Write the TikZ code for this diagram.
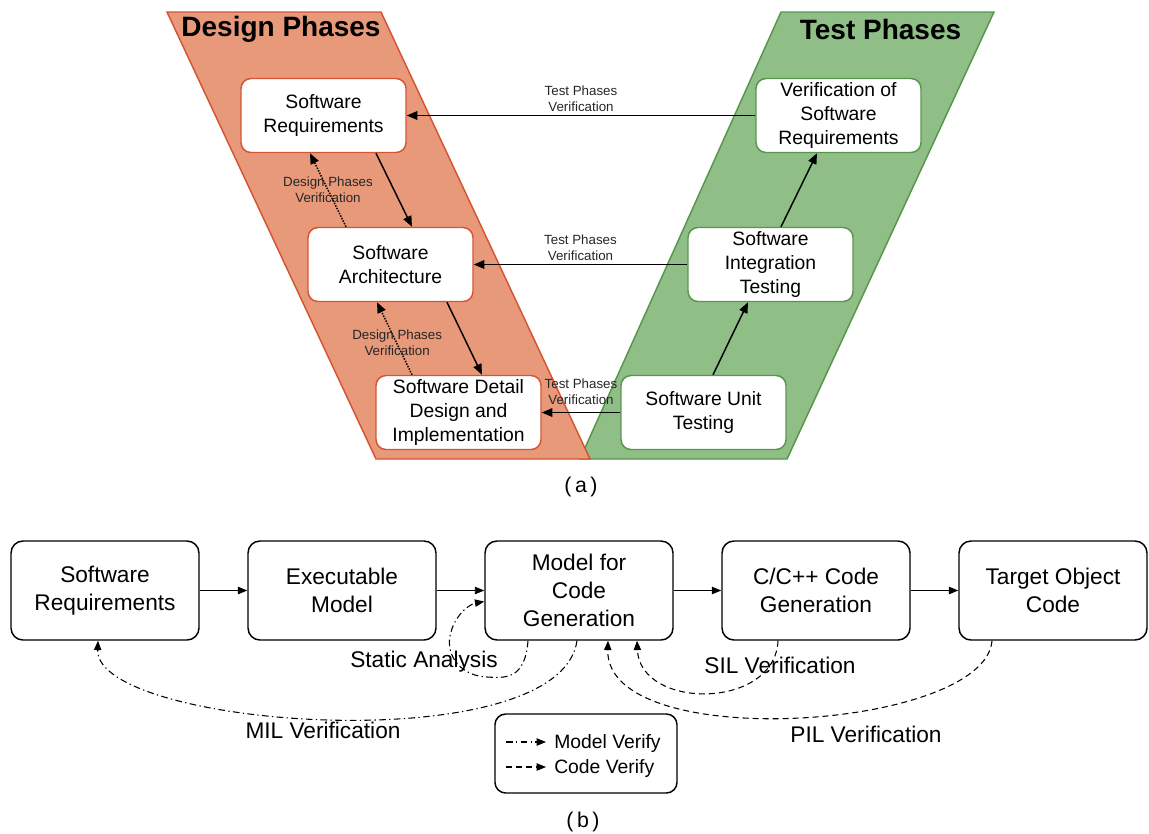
\documentclass[tikz,border=0pt]{standalone}
\usepackage{fontspec}
\setmainfont{Liberation Sans}
\usetikzlibrary{arrows.meta, calc}

\definecolor{designfill}{RGB}{232,153,122}
\definecolor{designline}{RGB}{212,84,52}
\definecolor{testfill}{RGB}{143,190,135}
\definecolor{testline}{RGB}{88,150,78}

\begin{document}
\begin{tikzpicture}[x=0.75pt, y=-0.75pt,
        every node/.style={inner sep=0pt, align=center},
        phasebox/.style={rectangle, rounded corners=7.5pt, fill=white, line width=1.1pt,
            minimum width=123.75pt, minimum height=55.5pt, font=\fontsize{14.5}{18}\selectfont},
        designbox/.style={phasebox, draw=designline},
        testbox/.style={phasebox, draw=testline},
        flowbox/.style={rectangle, rounded corners=9pt, draw, fill=white, line width=1.1pt,
            minimum width=141pt, minimum height=74.25pt, font=\fontsize{17}{21}\selectfont},
        smalllbl/.style={font=\fontsize{10}{12}\selectfont, text=black!85},
        biglbl/.style={font=\fontsize{17}{21}\selectfont, anchor=base},
        legtxt/.style={font=\fontsize{14.5}{18}\selectfont, anchor=west},
        solidarr/.style={line width=1.1pt, -{Triangle[length=8pt,width=6.5pt]}},
        dotarr/.style={line width=1.1pt, densely dotted, -{Triangle[length=8pt,width=6.5pt]}},
        flowarr/.style={line width=1pt, -{Triangle[length=7pt,width=5.5pt]}},
        mvarr/.style={line width=0.8pt, dash pattern=on 5pt off 2.5pt on 1pt off 2.5pt,
            -{Triangle[length=7pt,width=5.5pt]}},
        cvarr/.style={line width=0.8pt, dash pattern=on 4.5pt off 3pt,
            -{Triangle[length=7pt,width=5.5pt]}},
        node distance=177.75pt]
    \useasboundingbox (0,0) rectangle (1149,833);

    % (a) V model
    \draw[fill=testfill, draw=testline, line width=1.1pt]
        (781,12) -- (994,12) -- (787,459) -- (580,459) -- cycle;
    \draw[fill=designfill, draw=designline, line width=1.1pt]
        (167,12) -- (381,12) -- (590,459) -- (376,459) -- cycle;

    \node[font=\fontsize{21}{25}\selectfont\bfseries] (dtitle) at (281,29) {Design Phases};
    \node[font=\fontsize{21}{25}\selectfont\bfseries] (ttitle) at (880.5,29) {Test Phases};

    \node[designbox] (swreq) at (323.5,115.5) {Software\\Requirements};
    \node[designbox] (swarch) at (390.5,264.5) {Software\\Architecture};
    \node[designbox] (swdet) at (458.5,412.5) {Software Detail\\Design and\\Implementation};
    \node[testbox] (verreq) at (838.5,115.5) {Verification of\\Software\\Requirements};
    \node[testbox] (inttest) at (770.5,264.5) {Software\\Integration\\Testing};
    \node[testbox] (unittest) at (703.5,412.5) {Software Unit\\Testing};

    \draw[solidarr] ($(swreq.south)+(52.5,0)$) -- ($(swarch.north)+(21.5,0)$);
    \draw[solidarr] ($(swarch.south)+(56.5,0)$) -- ($(swdet.north)+(23.5,0)$);
    \draw[dotarr] ($(swarch.north)+(-44.5,0)$) -- ($(swreq.south)+(-13.5,0)$)
        node[midway, smalllbl] (dpv1) {Design Phases\\Verification};
    \draw[dotarr] ($(swdet.north)+(-46.5,0)$) -- ($(swarch.south)+(-13.5,0)$)
        node[midway, smalllbl, xshift=2pt, yshift=-3pt] (dpv2) {Design Phases\\Verification};

    \draw[solidarr] ($(unittest.north)+(9.5,0)$) -- ($(inttest.south)+(-22.5,0)$);
    \draw[solidarr] ($(inttest.north)+(10.5,0)$) -- ($(verreq.south)+(-21.5,0)$);

    \draw[solidarr] (verreq) -- (swreq)
        node[midway, above=2.5pt, smalllbl] (tpv1) {Test Phases\\Verification};
    \draw[solidarr] (inttest) -- (swarch)
        node[midway, above=2.5pt, smalllbl] (tpv2) {Test Phases\\Verification};
    \draw[solidarr] (unittest) -- (swdet)
        node[midway, above=5.5pt, smalllbl] (tpv3) {Test Phases\\Verification};

    \node[font=\fontsize{16}{19}\selectfont] (capa) at (581,487) {(\,a\,)};

    % (b) model based flow
    \node[flowbox] (sr) at (105,590.5) {Software\\Requirements};
    \node[flowbox, right of=sr] (exm) {Executable\\Model};
    \node[flowbox, right of=exm] (mcg) {Model for\\Code\\Generation};
    \node[flowbox, right of=mcg] (ccg) {C/C++ Code\\Generation};
    \node[flowbox, right of=ccg] (toc) {Target Object\\Code};

    \draw[flowarr] (sr) -- (exm);
    \draw[flowarr, line width=0.6pt] (exm) -- (mcg);
    \draw[flowarr] (mcg) -- (ccg);
    \draw[flowarr] (ccg) -- (toc);

    \draw[mvarr] ($(mcg.south)+(-51,0)$) .. controls (525,680) and (505,678) .. (487,677)
        .. controls (462,676) and (446,657) .. (450,636)
        .. controls (454,615) and (470,604) .. ($(mcg.west)+(0,11)$);
    \draw[mvarr] ($(mcg.south)+(-2,0)$) .. controls (560,762) and (95,728) .. ($(sr.south)+(-7,0)$);
    \draw[cvarr] ($(ccg.south)+(-38,0)$) .. controls (775,710) and (640,710) .. ($(mcg.south)+(58,0)$);
    \draw[cvarr] ($(toc.south)+(-61,0)$) .. controls (985,730) and (605,755) .. ($(mcg.south)+(29,0)$);

    \node[biglbl] (stat) at (424,667) {Static Analysis};
    \node[biglbl] (sil) at (780,673) {SIL Verification};
    \node[biglbl] (mil) at (323,738) {MIL Verification};
    \node[biglbl] (pil) at (866,742) {PIL Verification};

    % legend
    \node[flowbox, minimum width=136.5pt, minimum height=59.25pt, rounded corners=8pt] (legend) at (586,753.5) {};
    \coordinate (mva) at (506,742);
    \coordinate (mvb) at (546,742);
    \coordinate (cva) at (506,767);
    \coordinate (cvb) at (546,767);
    \draw[mvarr] (mva) -- (mvb);
    \draw[cvarr] (cva) -- (cvb);
    \node[legtxt] (mvtxt) at (554,743) {Model Verify};
    \node[legtxt] (cvtxt) at (554,768) {Code Verify};

    \node[font=\fontsize{16}{19}\selectfont] (capb) at (583,822) {(\,b\,)};
\end{tikzpicture}
\end{document}
